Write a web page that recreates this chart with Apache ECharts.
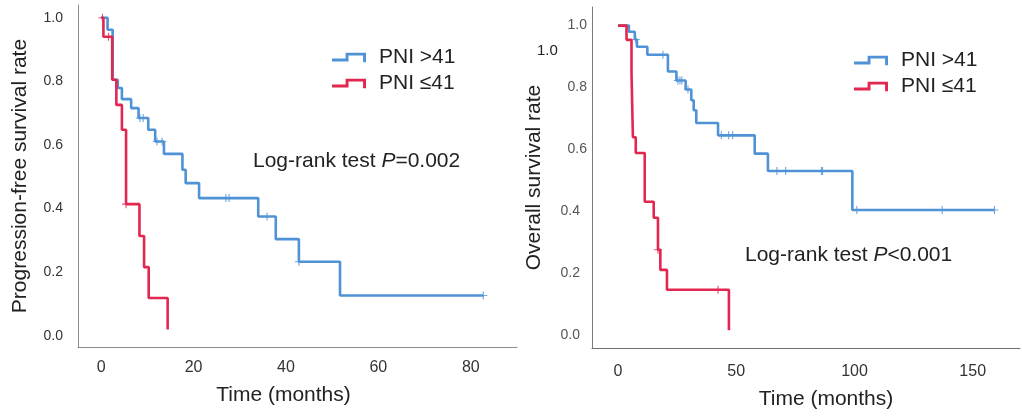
<!DOCTYPE html>
<html>
<head>
<meta charset="utf-8">
<title>PNI survival curves</title>
<script src="https://cdn.jsdelivr.net/npm/echarts@6/dist/echarts.min.js"></script>
<style>
    html, body { margin: 0; padding: 0; background: #fff; }
    #chart { width: 1022px; height: 416px; }
</style>
</head>
<body>
<div id="chart"></div>
<script>
// Progression-free survival, PNI >41 (event times / survival after each step)
var pfsHighTime = [0, 1.4, 2.5, 3.6, 4.5, 6.5, 8.1, 10.2, 11.7, 13.6, 17.6, 18.3, 21.2, 34.0, 37.8, 42.8, 51.7, 82.7];
var pfsHighSurv = [1.0, 0.962, 0.805, 0.779, 0.744, 0.716, 0.685, 0.648, 0.611, 0.572, 0.522, 0.48, 0.433, 0.375, 0.304, 0.233, 0.127, 0.127];
var pfsHighCensTime = [8.4, 9.1, 12.1, 13.2, 27.0, 27.7, 35.9, 42.8, 82.7];
var pfsHighCensSurv = [0.685, 0.685, 0.611, 0.611, 0.433, 0.433, 0.375, 0.233, 0.127];

// Progression-free survival, PNI <=41
var pfsLowTime = [0, 0.5, 2.4, 3.3, 4.5, 5.4, 8.3, 9.3, 10.3, 14.4];
var pfsLowSurv = [1.0, 0.94, 0.805, 0.726, 0.648, 0.414, 0.314, 0.216, 0.119, 0.02];
var pfsLowCensTime = [0.3, 1.6, 5.4];
var pfsLowCensSurv = [1.0, 0.94, 0.414];

// Overall survival, PNI >41
var osHighTime = [0, 4.6, 7.1, 8.0, 12.4, 21.1, 24.7, 28.6, 31.0, 32.0, 33.1, 42.3, 57.8, 63.4, 99.1, 159.2];
var osHighSurv = [1.0, 0.98, 0.955, 0.932, 0.906, 0.852, 0.823, 0.794, 0.759, 0.727, 0.686, 0.646, 0.587, 0.531, 0.405, 0.405];
var osHighCensTime = [7.5, 19.0, 25.3, 26.2, 27.0, 29.6, 43.7, 46.8, 48.5, 67.2, 70.9, 86.0, 86.5, 101.0, 137.1, 159.2];
var osHighCensSurv = [0.955, 0.906, 0.823, 0.823, 0.823, 0.794, 0.646, 0.646, 0.646, 0.531, 0.531, 0.531, 0.531, 0.405, 0.405, 0.405];

// Overall survival, PNI <=41
var osLowTime = [0, 3.6, 5.7, 6.3, 7.5, 11.3, 15.1, 16.9, 17.9, 20.7, 46.9];
var osLowSurv = [1.0, 0.954, 0.85, 0.64, 0.589, 0.432, 0.38, 0.277, 0.212, 0.148, 0.017];
var osLowCensTime = [16.9, 42.3];
var osLowCensSurv = [0.277, 0.148];

var yTicks = [0, 0.2, 0.4, 0.6, 0.8, 1.0];
var pfsXTicks = [0, 20, 40, 60, 80];
var osXTicks = [0, 50, 100, 150];
var groupNames = ['PNI >41', 'PNI \u226441'];

var BLUE = '#4f92d6';
var RED = '#e2264f';
var FONT = '"Liberation Sans", Arial, sans-serif';
var PLUS = 'path://M4.3,0 L5.7,0 L5.7,4.3 L10,4.3 L10,5.7 L5.7,5.7 L5.7,10 L4.3,10 L4.3,5.7 L0,5.7 L0,4.3 L4.3,4.3 Z';
var STEP_ICON = 'path://M0,6 L14,6 L14,0 L35,0 L35,10 L32,10 L32,3 L17,3 L17,9 L0,9 Z';

function zip(xs, ys) {
    var out = [];
    for (var i = 0; i < xs.length; i++) {
        out.push([xs[i], ys[i]]);
    }
    return out;
}

function kmLine(name, color, idx, xs, ys) {
    return {
        name: name,
        type: 'line',
        step: 'end',
        xAxisIndex: idx,
        yAxisIndex: idx,
        showSymbol: false,
        silent: true,
        lineStyle: {color: color, width: 2.6},
        itemStyle: {color: color},
        data: zip(xs, ys)
    };
}

function censorMarks(name, color, idx, xs, ys) {
    return {
        name: name,
        type: 'scatter',
        xAxisIndex: idx,
        yAxisIndex: idx,
        symbol: PLUS,
        symbolSize: 8,
        silent: true,
        itemStyle: {color: color},
        data: zip(xs, ys)
    };
}

function xAxisOf(idx, min, max, ticks, lineColor, labelMargin, nameGap, namePad) {
    return {
        type: 'value',
        gridIndex: idx,
        min: min,
        max: max,
        name: 'Time (months)',
        nameLocation: 'middle',
        nameGap: nameGap,
        nameMoveOverlap: false,
        nameTextStyle: {fontSize: 21, color: '#222', fontFamily: FONT, padding: namePad},
        axisLine: {show: true, onZero: false, lineStyle: {color: lineColor, width: 1}},
        axisTick: {show: false},
        splitLine: {show: false},
        axisLabel: {customValues: ticks, fontSize: 16, color: '#333', fontFamily: FONT, margin: labelMargin}
    };
}

function yAxisOf(idx, min, max, name, lineColor, labelColor, labelMargin, nameGap, lowPad) {
    return {
        type: 'value',
        gridIndex: idx,
        min: min,
        max: max,
        name: name,
        nameLocation: 'middle',
        nameGap: nameGap,
        nameMoveOverlap: false,
        nameTextStyle: {fontSize: 21, color: '#222', fontFamily: FONT},
        axisLine: {show: true, onZero: false, lineStyle: {color: lineColor, width: 1}},
        axisTick: {show: false},
        splitLine: {show: false},
        axisLabel: {
            customValues: yTicks,
            margin: labelMargin,
            formatter: function (v) {
                return (v < 0.5 ? '{lo|' : '{hi|') + v.toFixed(1) + '}';
            },
            rich: {
                hi: {fontSize: 14, color: labelColor, fontFamily: FONT},
                lo: {fontSize: 14, color: labelColor, fontFamily: FONT, padding: [0, lowPad, 0, 0]}
            }
        }
    };
}

function legendAt(left, top) {
    return {
        orient: 'vertical',
        left: left,
        top: top,
        itemWidth: 34,
        itemHeight: 10,
        itemGap: 5,
        icon: STEP_ICON,
        selectedMode: false,
        data: groupNames,
        textStyle: {fontSize: 21, color: '#222', fontFamily: FONT, padding: [0, 0, 0, 8]}
    };
}

function logRankText(x, y, sign, value) {
    return {
        type: 'text',
        left: x,
        top: y,
        style: {
            text: '{n|Log-rank test }{i|P}{n|' + sign + value + '}',
            rich: {
                n: {fontSize: 21, fill: '#222', fontFamily: FONT},
                i: {fontSize: 21, fill: '#222', fontFamily: FONT, fontStyle: 'italic'}
            }
        }
    };
}

var myChart = echarts.init(document.getElementById('chart'), null, {renderer: 'canvas'});

var option = {
    animation: false,
    backgroundColor: '#fff',
    grid: [
        {left: 78, top: 5, width: 439, height: 342, outerBoundsMode: 'none'},
        {left: 592, top: 7, width: 428, height: 341, outerBoundsMode: 'none'}
    ],
    xAxis: [
        xAxisOf(0, -5, 90, pfsXTicks, '#8c8c8c', 13, 38, [0, 28, 0, 0]),
        xAxisOf(1, -11, 170, osXTicks, '#6e6e6e', 16, 41, [0, 0, 0, 40])
    ],
    yAxis: [
        yAxisOf(0, -0.035, 1.04, 'Progression-free survival rate', '#8c8c8c', '#333', 15, 47, 0),
        yAxisOf(1, -0.04, 1.06, 'Overall survival rate', '#7a7a7a', '#555', 5, 47, 7)
    ],
    legend: [
        legendAt(327, 42),
        legendAt(849, 45)
    ],
    graphic: [
        logRankText(253, 151, '=', '0.002'),
        logRankText(745, 245, '<', '0.001'),
        {
            type: 'text',
            left: 537,
            top: 43,
            style: {text: '1.0', fontSize: 15, fill: '#222', fontFamily: FONT}
        }
    ],
    series: [
        kmLine(groupNames[0], BLUE, 0, pfsHighTime, pfsHighSurv),
        censorMarks('pfs high censored', BLUE, 0, pfsHighCensTime, pfsHighCensSurv),
        kmLine(groupNames[1], RED, 0, pfsLowTime, pfsLowSurv),
        censorMarks('pfs low censored', RED, 0, pfsLowCensTime, pfsLowCensSurv),
        kmLine(groupNames[0], BLUE, 1, osHighTime, osHighSurv),
        censorMarks('os high censored', BLUE, 1, osHighCensTime, osHighCensSurv),
        kmLine(groupNames[1], RED, 1, osLowTime, osLowSurv),
        censorMarks('os low censored', RED, 1, osLowCensTime, osLowCensSurv)
    ]
};
myChart.setOption(option);
</script>
</body>
</html>
